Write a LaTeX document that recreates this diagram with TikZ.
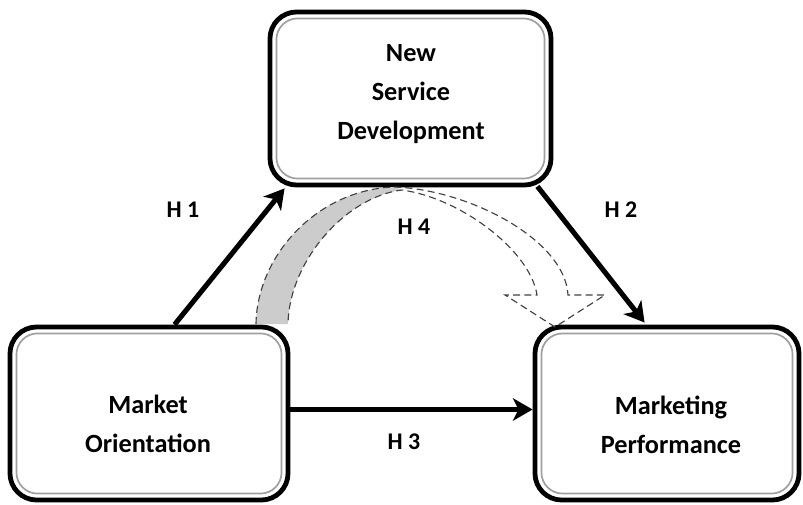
\documentclass[tikz,border=0pt]{standalone}
\usepackage{fontspec}
\setmainfont{Carlito}
\usetikzlibrary{arrows.meta}
\begin{document}
\begin{tikzpicture}[x=0.025cm,y=-0.025cm]

    \tikzset{
      box/.style={
        draw=black,
        line width=3.4pt,
        fill=white,
        rounded corners=19pt,
        path picture={
          \draw[gray!75, line width=1.2pt, rounded corners=15pt]
            ([shift={(4.6pt,4.6pt)}]path picture bounding box.south west) rectangle
            ([shift={(-4.6pt,-4.6pt)}]path picture bounding box.north east);
        },
      },
      boxtext/.style={align=center, font=\fontsize{18.7}{28}\selectfont\bfseries},
      hlabel/.style={font=\fontsize{17}{20}\selectfont\bfseries},
      hyp/.style={line width=3.6pt, -{Stealth[length=14pt,width=16pt,inset=4pt]}},
      band/.style={dash pattern=on 5pt off 3pt, line width=0.8pt, draw=gray!50!black},
    }
    \useasboundingbox (0,0) rectangle (803,505);

	% the three constructs
	\node[box, minimum width=7.025cm, minimum height=4.325cm] (nsd) at (410.5,98.5) {};
	\node[box, minimum width=6.95cm, minimum height=4.325cm] (mo) at (149,413.5) {};
	\node[box, minimum width=6.6cm, minimum height=4.325cm] (mp) at (667,413.5) {};
	\node[boxtext] (nsdtext) at (411,94) {New\\Service\\Development};
	\node[boxtext] (motext) at (148,424) {Market\\Orientation};
	\node[boxtext] (mptext) at (671,425) {Marketing\\Performance};

	% mediating path, grey on the way up, white on the way down
	\fill[gray!40] (256,324) .. controls (257,255) and (318,189) .. (395,187) -- (402,190)
	  .. controls (345,197) and (289,262) .. (288,324) -- cycle;
	\draw[band] (256,324) .. controls (257,255) and (318,189) .. (395,187)
	  .. controls (470,190) and (565,240) .. (568,295) -- (605,295) -- (555,327) -- (505,295) -- (537,295)
	  .. controls (530,250) and (460,198) .. (402,190)
	  .. controls (345,197) and (289,262) .. (288,324);

	% direct paths
	\draw[hyp] ([shift={(167,0)}]mo.north west) -- ([shift={(17,1)}]nsd.south west);
	\draw[hyp] ([shift={(-16,-1)}]nsd.south east) -- ([shift={(112,-2)}]mp.north west);
	\draw[hyp] ([shift={(0,-4)}]mo.east) -- ([shift={(0,-4)}]mp.west);

	\node[hlabel] (h1) at (183,210) {H 1};
	\node[hlabel] (h2) at (621,210) {H 2};
	\node[hlabel] (h4) at (414,227) {H 4};
	\node[hlabel] (h3) at (404,442) {H 3};

\end{tikzpicture}
\end{document}
